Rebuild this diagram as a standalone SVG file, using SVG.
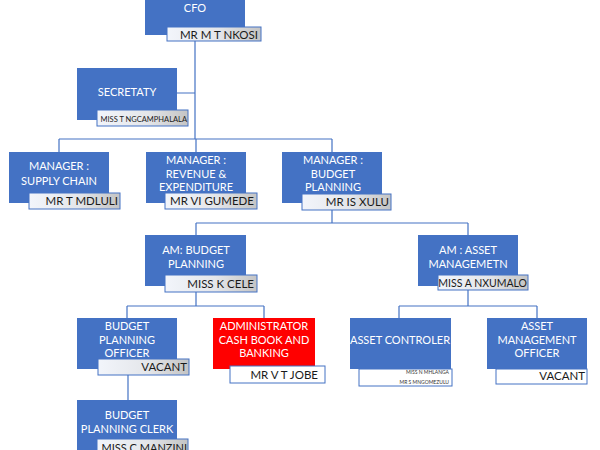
<svg xmlns="http://www.w3.org/2000/svg" width="600" height="450" viewBox="0 0 600 450">
<defs>
<linearGradient id="lg" x1="0" y1="0" x2="1" y2="0">
<stop offset="0" stop-color="#f2f5fb"/>
<stop offset="0.55" stop-color="#e4e6ea"/>
<stop offset="1" stop-color="#c4c4c4"/>
</linearGradient>
<style>
.box{fill:#4472c4;}
.red{fill:#ff0000;}
.lbl{fill:url(#lg);stroke:#4472c4;stroke-width:1;}
.wl{fill:#ffffff;stroke:#4472c4;stroke-width:1;}
.t{font-family:Lato,"Liberation Sans",sans-serif;font-size:11px;fill:#ffffff;text-anchor:middle;}
.n{font-family:Lato,"Liberation Sans",sans-serif;font-size:11.5px;fill:#1a1a1a;text-anchor:end;}
.s{font-family:Lato,"Liberation Sans",sans-serif;font-size:7.5px;fill:#1a1a1a;text-anchor:end;}
.xs{font-family:Lato,"Liberation Sans",sans-serif;font-size:5px;fill:#333;text-anchor:end;}
.c{stroke:#4472c4;stroke-width:1.2;fill:none;}
</style>
</defs>
<rect width="600" height="450" fill="#ffffff"/>
<g id="connectors">
<path class="c" d="M195 41V139M177 93H195M59 139H332M59 139V152M196 139V152M332 139V152"/>
<path class="c" d="M332 210V223M196 223H468M196 223V235M468 223V235"/>
<path class="c" d="M196 292V306M127 306H264M127 306V318M264 306V318"/>
<path class="c" d="M468 290V306M399 306H537M399 306V318M537 306V318"/>
<path class="c" d="M128 375V400"/>
</g>
<g id="cfo">
<rect class="box" x="145" y="-2" width="100" height="37"/>
<text class="t" x="195" y="12">CFO</text>
<rect class="lbl" x="167" y="27" width="94" height="14"/>
<text class="n" x="258" y="39">MR M T NKOSI</text>
</g>
<g id="secretary">
<rect class="box" x="77" y="68" width="100" height="52"/>
<text class="t" x="127" y="96">SECRETATY</text>
<rect class="lbl" x="97" y="110" width="91" height="16"/>
<text class="s" x="187" y="122">MISS T NGCAMPHALALA</text>
</g>
<g id="mgr-supply">
<rect class="box" x="9" y="152" width="100" height="51"/>
<text class="t" x="59" y="170">MANAGER :</text>
<text class="t" x="59" y="185">SUPPLY CHAIN</text>
<rect class="lbl" x="29" y="193" width="91" height="16"/>
<text class="n" x="118" y="205">MR T MDLULI</text>
</g>
<g id="mgr-revenue">
<rect class="box" x="146" y="152" width="100" height="51"/>
<text class="t" x="196" y="164">MANAGER :</text>
<text class="t" x="196" y="177.5">REVENUE &amp;</text>
<text class="t" x="196" y="191">EXPENDITURE</text>
<rect class="lbl" x="165" y="193" width="92" height="16"/>
<text class="n" x="254" y="205">MR VI GUMEDE</text>
</g>
<g id="mgr-budget">
<rect class="box" x="282" y="152" width="100" height="51"/>
<text class="t" x="333" y="164">MANAGER :</text>
<text class="t" x="333" y="177.5">BUDGET</text>
<text class="t" x="333" y="191">PLANNING</text>
<rect class="lbl" x="302" y="194" width="89" height="16"/>
<text class="n" x="389" y="206">MR IS XULU</text>
</g>
<g id="am-budget">
<rect class="box" x="145" y="235" width="101" height="51"/>
<text class="t" x="196" y="254">AM: BUDGET</text>
<text class="t" x="196" y="267.5">PLANNING</text>
<rect class="lbl" x="165" y="275" width="92" height="17"/>
<text class="n" x="254" y="288">MISS K CELE</text>
</g>
<g id="am-asset">
<rect class="box" x="418" y="235" width="100" height="51"/>
<text class="t" x="468" y="254">AM : ASSET</text>
<text class="t" x="468" y="267.5">MANAGEMETN</text>
<rect class="lbl" x="438" y="275" width="90" height="15"/>
<text class="n" x="527" y="287" style="font-size:10.5px">MISS A NXUMALO</text>
</g>
<g id="bp-officer">
<rect class="box" x="77" y="318" width="100" height="51"/>
<text class="t" x="127" y="330">BUDGET</text>
<text class="t" x="127" y="343.5">PLANNING</text>
<text class="t" x="127" y="357">OFFICER</text>
<rect class="lbl" x="98" y="359" width="91" height="16"/>
<text class="n" x="187" y="371">VACANT</text>
</g>
<g id="admin-cashbook">
<rect class="red" x="213" y="318" width="102" height="51"/>
<text class="t" x="264" y="330">ADMINISTRATOR</text>
<text class="t" x="264" y="343.5">CASH BOOK AND</text>
<text class="t" x="264" y="357">BANKING</text>
<rect class="wl" x="230" y="366" width="95" height="17"/>
<text class="n" x="318" y="379">MR V T JOBE</text>
</g>
<g id="asset-controller">
<rect class="box" x="350" y="318" width="101" height="51"/>
<text class="t" x="400" y="344">ASSET CONTROLER</text>
<rect class="wl" x="359" y="369" width="93" height="17"/>
<text class="xs" x="449" y="374">MISS N MHLANGA</text>
<text class="xs" x="449" y="384">MR S MNGOMEZULU</text>
</g>
<g id="asset-mgmt-officer">
<rect class="box" x="487" y="318" width="100" height="51"/>
<text class="t" x="537" y="330">ASSET</text>
<text class="t" x="537" y="343.5">MANAGEMENT</text>
<text class="t" x="537" y="357">OFFICER</text>
<rect class="wl" x="496" y="369" width="91" height="15"/>
<text class="n" x="585" y="380">VACANT</text>
</g>
<g id="bp-clerk">
<rect class="box" x="77" y="400" width="100" height="55"/>
<text class="t" x="127" y="419">BUDGET</text>
<text class="t" x="127" y="433">PLANNING CLERK</text>
<rect class="lbl" x="97" y="439" width="91" height="16"/>
<text class="n" x="187" y="452" style="font-size:11px">MISS C MANZINI</text>
</g>
</svg>
